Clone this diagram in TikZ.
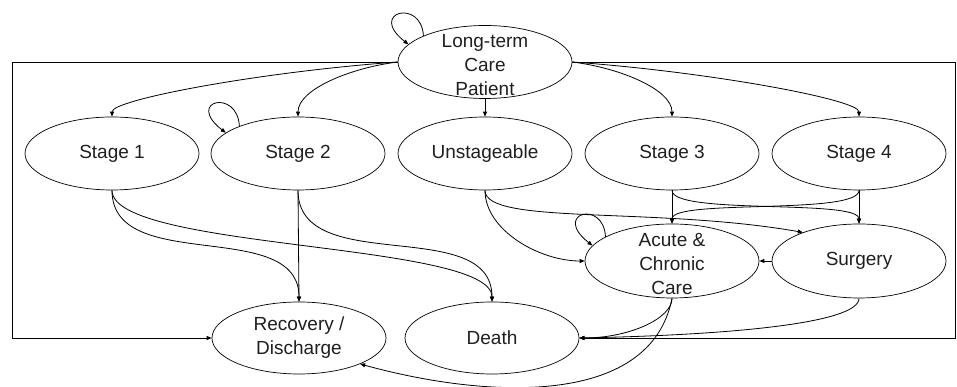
\documentclass[tikz,border=0pt]{standalone}
\usepackage{fontspec}
\setmainfont{Liberation Sans}
\usetikzlibrary{shapes.geometric,arrows.meta}
\begin{document}
\begin{tikzpicture}[x=1pt,y=1pt,
  state/.style={draw, ellipse, line width=0.7pt, inner sep=0pt, minimum width=174pt, minimum height=73pt, align=center, font=\fontsize{19}{24}\selectfont, text=black!88},
  tall/.style={inner ysep=-11pt},
  edge/.style={line width=0.8pt, -{Triangle[length=5pt,width=4pt]}},
]
\useasboundingbox (0,0) rectangle (957,387);
% nodes
\node[state,tall] (LTC) at (485,325) {\rule{0pt}{19pt}Long-term\\Care\\Patient};
\node[state] (S1) at (112,233.5) {Stage 1};
\node[state] (S2) at (298,233.5) {Stage 2};
\node[state] (U)  at (485,233.5) {Unstageable};
\node[state] (S3) at (672,233.5) {Stage 3};
\node[state] (S4) at (859,233.5) {Stage 4};
\node[state,tall,minimum height=74pt] (A) at (672,126) {\rule{0pt}{19pt}Acute \&\\Chronic\\Care};
\node[state,minimum height=74pt] (Su) at (859,126) {Surgery};
\node[state,minimum height=72pt] (R) at (299,49) {Recovery /\\Discharge};
\node[state,minimum height=72pt] (D) at (492,49) {Death};
\coordinate (cl) at (12,325);
\coordinate (cr) at (955,325);
% self loops
\draw[edge] (LTC.157) .. controls +(-2,38) and +(-41,32) .. (LTC.167);
\draw[edge] (S2.155) .. controls +(-2,38) and +(-41,32) .. (S2.164);
\draw[edge] (A.160) .. controls +(-2,38) and +(-41,32) .. (A.169);
% from long-term care
\draw[edge] (LTC.west) .. controls +(-138,-10) and +(0,17) .. (S1.north);
\draw[edge] (LTC.west) .. controls +(-48,-6) and +(0,27) .. (S2.north);
\draw[edge] (LTC.south) -- (U.north);
\draw[edge] (LTC.east) .. controls +(48,-6) and +(0,27) .. (S3.north);
\draw[edge] (LTC.east) .. controls +(138,-10) and +(0,17) .. (S4.north);
\draw[edge] (LTC.west) -- (cl) |- (R.west);
\draw[edge] (LTC.east) -- (cr) |- (D.east);
% stages 1 and 2
\draw[edge] (S1.south) to[out=-90,in=90] (R.north);
\draw[edge] (S1.south) to[out=-90,in=90,distance=60pt] (D.north);
\draw[edge] (S2.south) -- (R.north);
\draw[edge] (S2.south) to[out=-90,in=90] (D.north);
% unstageable
\draw[edge] (U.south) to[out=-90,in=180,out distance=40pt,in distance=45pt] (A.west);
\draw[edge] (U.south) .. controls +(0,-35) and +(-148,26) .. (Su.153);
% stages 3 and 4
\draw[edge] (S3.south) -- (A.north);
\draw[edge] (S3.south) to[out=-90,in=90,distance=25pt] (Su.north);
\draw[edge] (S4.south) -- (Su.north);
\draw[edge] (S4.south) to[out=-90,in=90,distance=25pt] (A.north);
% surgery and acute care
\draw[edge] (Su.west) -- (A.east);
\draw[edge] (A.south) to[out=-90,in=0,out distance=20pt,in distance=50pt] (D.east);
\draw[edge] (Su.south) .. controls +(0,-25) and +(150,3) .. (D.east);
\draw[edge] (A.south) .. controls +(-22,-112) and +(119,-33) .. (R.-23);
\end{tikzpicture}
\end{document}
